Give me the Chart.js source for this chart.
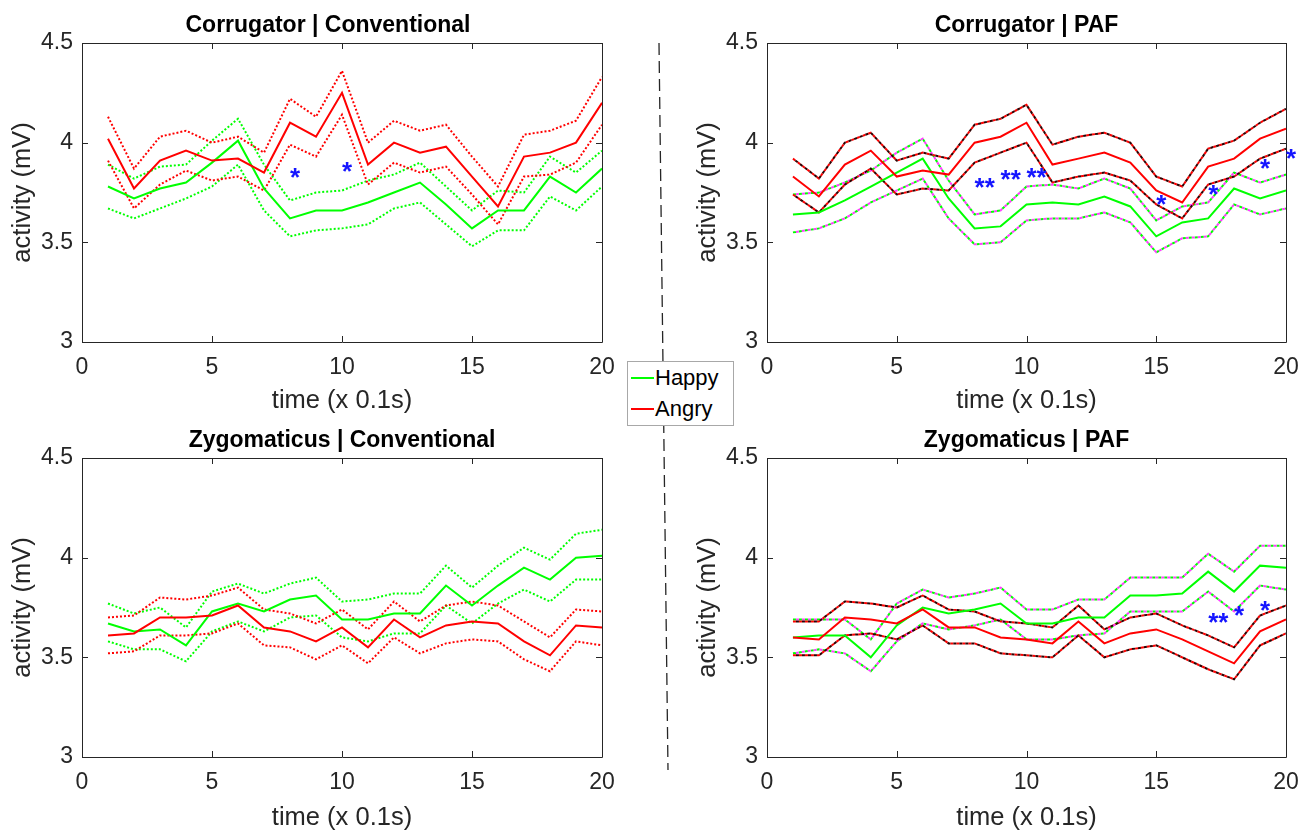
<!DOCTYPE html>
<html><head><meta charset="utf-8">
<script src="https://cdn.jsdelivr.net/npm/chart.js@4.4.1/dist/chart.umd.min.js"></script>
<style>
body{margin:0;background:#fff;width:1311px;height:833px;position:relative;overflow:hidden;font-family:"Liberation Sans",Arial,sans-serif}
.p{position:absolute}
#legend{position:absolute;left:627px;top:361px;width:105px;height:63px;border:1px solid #a8a8a8;background:#fff;z-index:5}
#legend .ln{position:absolute;left:3px;width:23px;height:2px}
#legend .tx{position:absolute;left:27px;font-size:22px;color:#000;line-height:22px}
</style></head><body>
<div class="p" style="left:0;top:0"><canvas id="c1" width="656" height="416"></canvas></div>
<div class="p" style="left:656px;top:0"><canvas id="c2" width="655" height="416"></canvas></div>
<div class="p" style="left:0;top:416px"><canvas id="c3" width="656" height="417"></canvas></div>
<div class="p" style="left:656px;top:416px"><canvas id="c4" width="655" height="417"></canvas></div>
<svg class="p" style="left:0;top:0;z-index:3" width="1311" height="833"><line x1="659" y1="43" x2="668" y2="770" stroke="#262626" stroke-width="1.3" stroke-dasharray="12 6"/></svg>
<div id="legend">
  <div class="ln" style="top:15px;background:#00ff00"></div><div class="tx" style="top:5px">Happy</div>
  <div class="ln" style="top:46px;background:#ff0000"></div><div class="tx" style="top:36px">Angry</div>
</div>
<script>
// ---- data ----
const timeSteps = [1,2,3,4,5,6,7,8,9,10,11,12,13,14,15,16,17,18,19,20];
const xTicks = [0,5,10,15,20];
const yTicks = [3,3.5,4,4.5];

// Corrugator | Conventional
const ccHappy      = [3.78,3.72,3.77,3.80,3.90,4.01,3.77,3.62,3.66,3.66,3.70,3.75,3.80,3.69,3.57,3.66,3.66,3.83,3.75,3.87];
const ccHappyUpper = [3.89,3.82,3.88,3.89,4.01,4.12,3.89,3.71,3.75,3.76,3.81,3.84,3.90,3.78,3.66,3.76,3.75,3.93,3.85,3.96];
const ccHappyLower = [3.67,3.62,3.67,3.72,3.78,3.89,3.66,3.53,3.56,3.57,3.59,3.67,3.70,3.59,3.48,3.56,3.56,3.73,3.66,3.78];
const ccAngry      = [4.02,3.77,3.91,3.96,3.91,3.92,3.85,4.10,4.03,4.25,3.89,4.00,3.95,3.98,3.83,3.68,3.93,3.95,4.00,4.20];
const ccAngryUpper = [4.13,3.87,4.03,4.06,4.00,4.03,3.95,4.22,4.13,4.36,4.00,4.11,4.06,4.09,3.93,3.78,4.04,4.06,4.11,4.33];
const ccAngryLower = [3.91,3.67,3.79,3.86,3.81,3.83,3.76,3.99,3.93,4.14,3.79,3.90,3.85,3.88,3.74,3.59,3.83,3.84,3.90,4.09];
const ccStars = [{t:8,y:3.858,s:'*'},{t:10,y:3.888,s:'*'}];

// Corrugator | PAF
const cpHappy      = [3.64,3.65,3.71,3.78,3.85,3.92,3.72,3.57,3.58,3.69,3.70,3.69,3.73,3.68,3.53,3.60,3.62,3.77,3.72,3.76];
const cpHappyUpper = [3.74,3.75,3.80,3.86,3.95,4.02,3.81,3.64,3.66,3.78,3.79,3.77,3.82,3.77,3.61,3.68,3.70,3.85,3.80,3.84];
const cpHappyLower = [3.55,3.57,3.62,3.70,3.76,3.82,3.62,3.49,3.50,3.61,3.62,3.62,3.65,3.60,3.45,3.52,3.53,3.69,3.64,3.67];
const cpAngry      = [3.83,3.73,3.89,3.96,3.83,3.86,3.84,4.00,4.03,4.10,3.89,3.92,3.95,3.90,3.76,3.70,3.88,3.92,4.02,4.07];
const cpAngryUpper = [3.92,3.82,4.00,4.05,3.91,3.95,3.92,4.09,4.12,4.19,3.99,4.03,4.05,4.00,3.83,3.78,3.97,4.01,4.10,4.17];
const cpAngryLower = [3.74,3.65,3.79,3.87,3.74,3.77,3.76,3.90,3.95,4.00,3.80,3.83,3.85,3.81,3.69,3.62,3.79,3.83,3.92,3.97];
const cpStars = [{t:8,y:3.808,s:'**'},{t:9,y:3.848,s:'**'},{t:10,y:3.858,s:'**'},{t:15,y:3.722,s:'*'},{t:17,y:3.772,s:'*'},{t:19,y:3.903,s:'*'},{t:20,y:3.953,s:'*'}];

// Zygomaticus | Conventional
const zcHappy      = [3.67,3.63,3.64,3.56,3.73,3.77,3.73,3.79,3.81,3.69,3.69,3.72,3.72,3.86,3.76,3.86,3.95,3.89,4.00,4.01];
const zcHappyUpper = [3.77,3.72,3.75,3.65,3.83,3.87,3.82,3.87,3.90,3.78,3.79,3.82,3.82,3.96,3.85,3.96,4.05,3.99,4.12,4.14];
const zcHappyLower = [3.58,3.54,3.54,3.48,3.63,3.68,3.63,3.70,3.71,3.60,3.58,3.62,3.62,3.76,3.67,3.77,3.84,3.78,3.89,3.89];
const zcAngry      = [3.61,3.62,3.70,3.70,3.71,3.76,3.65,3.63,3.58,3.65,3.55,3.69,3.60,3.66,3.68,3.67,3.58,3.51,3.66,3.65];
const zcAngryUpper = [3.70,3.71,3.80,3.79,3.81,3.85,3.74,3.72,3.67,3.74,3.64,3.78,3.68,3.76,3.78,3.76,3.68,3.60,3.74,3.73];
const zcAngryLower = [3.52,3.53,3.61,3.61,3.62,3.67,3.56,3.55,3.49,3.56,3.47,3.60,3.52,3.57,3.59,3.58,3.49,3.43,3.58,3.56];
const zcStars = [];

// Zygomaticus | PAF
const zpHappy      = [3.60,3.61,3.61,3.50,3.66,3.75,3.72,3.74,3.77,3.67,3.67,3.70,3.70,3.81,3.81,3.82,3.93,3.83,3.96,3.95];
const zpHappyUpper = [3.69,3.69,3.69,3.59,3.77,3.84,3.80,3.82,3.85,3.74,3.74,3.79,3.79,3.90,3.90,3.90,4.02,3.93,4.06,4.06];
const zpHappyLower = [3.52,3.54,3.52,3.43,3.58,3.67,3.64,3.66,3.69,3.59,3.59,3.61,3.62,3.73,3.73,3.73,3.83,3.73,3.86,3.84];
const zpAngry      = [3.60,3.59,3.70,3.69,3.67,3.74,3.65,3.65,3.60,3.59,3.57,3.68,3.57,3.62,3.64,3.59,3.53,3.47,3.63,3.69];
const zpAngryUpper = [3.68,3.68,3.78,3.77,3.75,3.81,3.74,3.73,3.68,3.67,3.65,3.76,3.64,3.70,3.72,3.66,3.61,3.55,3.71,3.76];
const zpAngryLower = [3.51,3.51,3.61,3.62,3.59,3.66,3.57,3.57,3.52,3.51,3.50,3.61,3.50,3.54,3.56,3.50,3.44,3.39,3.56,3.62];
const zpStars = [{t:17,y:3.705,s:'**'},{t:18,y:3.74,s:'*'},{t:19,y:3.77,s:'*'}];

// ---- rendering ----
const FONT = '"Liberation Sans", Arial, sans-serif';
const AX = '#262626';
const GREEN = '#00ff00', RED = '#ff0000';

const pts = arr => timeSteps.map((t,i)=>({x:t,y:arr[i]}));

const panelPlugin = {
  id:'panel',
  afterDraw(chart){
    const o = chart.options.plugins.panel;
    const {ctx, chartArea:a, scales:{x,y}} = chart;
    ctx.save();
    ctx.strokeStyle = AX; ctx.lineWidth = 1;
    ctx.beginPath();
    ctx.rect(a.left+0.5, a.top+0.5, a.right-a.left, a.bottom-a.top);
    x.ticks.forEach(t=>{
      const px = Math.round(x.getPixelForValue(t.value))+0.5;
      ctx.moveTo(px, a.bottom); ctx.lineTo(px, a.bottom-6);
      ctx.moveTo(px, a.top); ctx.lineTo(px, a.top+6);
    });
    y.ticks.forEach(t=>{
      const py = Math.round(y.getPixelForValue(t.value))+0.5;
      ctx.moveTo(a.left, py); ctx.lineTo(a.left+6, py);
      ctx.moveTo(a.right, py); ctx.lineTo(a.right-6, py);
    });
    ctx.stroke();
    // title
    ctx.fillStyle = '#000';
    ctx.font = 'bold 23px ' + FONT;
    ctx.textAlign = 'center'; ctx.textBaseline = 'alphabetic';
    ctx.fillText(o.title, (a.left+a.right)/2 + o.titleShift, a.top-11);
    // significance stars
    ctx.fillStyle = '#1515ff';
    ctx.font = 'bold 26px ' + FONT;
    ctx.textAlign = 'left';
    o.stars.forEach(s=>{
      ctx.fillText(s.s, x.getPixelForValue(s.t), y.getPixelForValue(s.y) + 15);
    });
    ctx.restore();
  }
};

function lineDs(arr, color, dotted, offset, dash){
  return {data:pts(arr), borderColor:color, borderWidth:2, pointRadius:0, fill:false, tension:0,
    borderDash: dotted ? (dash || [2,2]) : [], borderDashOffset: offset||0};
}

function makePanel(id, title, s, stars, paf, pad, xh, titleShift){
  const ds = [];
  ds.push(lineDs(s.angry, RED, false));
  ds.push(lineDs(s.happy, GREEN, false));
  if (paf){
    ds.push(lineDs(s.angryU, '#300000', true, 3, [3,3]));
    ds.push(lineDs(s.angryL, '#300000', true, 3, [3,3]));
    ds.push(lineDs(s.happyU, '#ff40ff', true, 3, [3,3]));
    ds.push(lineDs(s.happyL, '#ff40ff', true, 3, [3,3]));
    ds.push(lineDs(s.angryU, RED, true, 0, [3,3]));
    ds.push(lineDs(s.angryL, RED, true, 0, [3,3]));
    ds.push(lineDs(s.happyU, GREEN, true, 0, [3,3]));
    ds.push(lineDs(s.happyL, GREEN, true, 0, [3,3]));
  } else {
    ds.push(lineDs(s.angryU, RED, true));
    ds.push(lineDs(s.angryL, RED, true));
    ds.push(lineDs(s.happyU, GREEN, true));
    ds.push(lineDs(s.happyL, GREEN, true));
  }
  new Chart(document.getElementById(id), {
    type:'line',
    data:{datasets:ds},
    plugins:[panelPlugin],
    options:{
      responsive:false, animation:false, devicePixelRatio:1,
      layout:{padding:pad},
      plugins:{legend:{display:false}, tooltip:{enabled:false}, panel:{title, stars, titleShift}},
      scales:{
        x:{type:'linear', min:0, max:20,
          afterBuildTicks: sc => { sc.ticks = xTicks.map(v=>({value:v})); },
          afterFit: sc => { sc.height = xh; },
          grid:{display:false, drawTicks:false}, border:{display:false},
          ticks:{padding:12, color:AX, font:{size:23, family:FONT}, maxRotation:0, autoSkip:false,
                 callback: v => String(v)},
          title:{display:true, text:'time (x 0.1s)', color:AX, font:{size:25.5, family:FONT}, padding:0}
        },
        y:{type:'linear', min:3, max:4.5,
          afterBuildTicks: sc => { sc.ticks = yTicks.map(v=>({value:v})); },
          afterFit: sc => { sc.width = 82; },
          grid:{display:false, drawTicks:false}, border:{display:false},
          ticks:{padding:9, color:AX, font:{size:23, family:FONT}, callback: v => String(v)},
          title:{display:true, text:'activity (mV)', color:AX, font:{size:25.5, family:FONT}, padding:{top:8,bottom:0}}
        }
      }
    }
  });
}

makePanel('c1','Corrugator | Conventional',
  {happy:ccHappy,happyU:ccHappyUpper,happyL:ccHappyLower,angry:ccAngry,angryU:ccAngryUpper,angryL:ccAngryLower},
  ccStars,false,{left:0,right:54,top:43,bottom:0},74,-14);
makePanel('c2','Corrugator | PAF',
  {happy:cpHappy,happyU:cpHappyUpper,happyL:cpHappyLower,angry:cpAngry,angryU:cpAngryUpper,angryL:cpAngryLower},
  cpStars,true,{left:29,right:25,top:43,bottom:0},74,0);
makePanel('c3','Zygomaticus | Conventional',
  {happy:zcHappy,happyU:zcHappyUpper,happyL:zcHappyLower,angry:zcAngry,angryU:zcAngryUpper,angryL:zcAngryLower},
  zcStars,false,{left:0,right:54,top:42,bottom:0},76,0);
makePanel('c4','Zygomaticus | PAF',
  {happy:zpHappy,happyU:zpHappyUpper,happyL:zpHappyLower,angry:zpAngry,angryU:zpAngryUpper,angryL:zpAngryLower},
  zpStars,true,{left:29,right:25,top:42,bottom:0},76,0);
</script>
</body></html>
